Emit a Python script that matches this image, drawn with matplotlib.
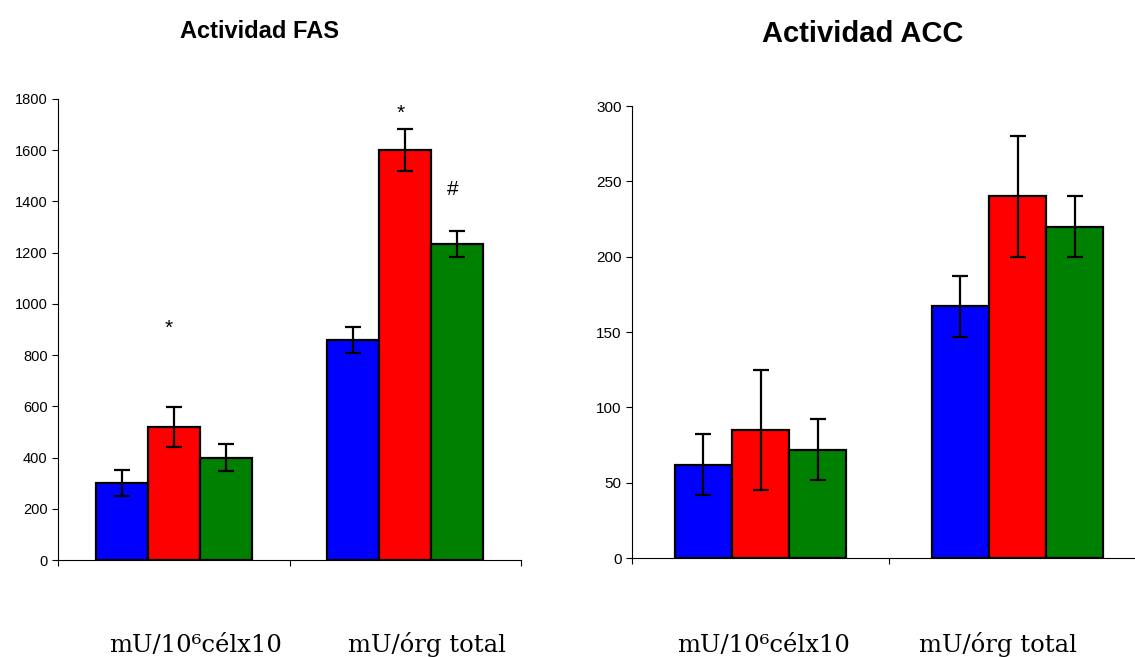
import numpy as np
import matplotlib
matplotlib.use("Agg")
import matplotlib.pyplot as plt

# data
categories = ["mU/10\u2076célx10", "mU/órg total"]
colors = ["#0000FF", "#FF0000", "#008000"]

fas_means = [[300, 520, 400], [860, 1600, 1235]]
fas_errs = [[50, 78, 52], [50, 82, 50]]

acc_means = [[62, 85, 72], [167, 240, 220]]
acc_errs = [[20, 40, 20], [20, 40, 20]]

# significance marks: (category, series, y)
fas_marks = [(0, 1, 906, "*"), (1, 1, 1746, "*"), (1, 2, 1445, "#")]

plt.rcParams["font.family"] = ["Liberation Sans", "DejaVu Sans"]

fig = plt.figure(figsize=(11.35, 6.57), dpi=100)
W, H = 1135, 657


def px_axes(x0, x1, y0, y1):
    # pixel box (left, right, bottom-y, top-y) -> figure axes
    return fig.add_axes([x0 / W, (H - y0) / H, (x1 - x0) / W, (y0 - y1) / H])


def draw_bars(ax, means, errs, width):
    x = np.arange(len(categories))
    means = np.array(means)
    errs = np.array(errs)
    for i in range(3):
        ax.bar(x + (i - 1) * width, means[:, i], width, color=colors[i],
               edgecolor="black", linewidth=1.6, zorder=2)
        ax.errorbar(x + (i - 1) * width, means[:, i], yerr=errs[:, i], fmt="none",
                    ecolor="black", elinewidth=1.6, capsize=5.8, capthick=1.6, zorder=3)
    ax.set_xlim(-0.5, 1.5)
    ax.set_xticks([])
    ax.set_xticks([-0.5, 0.5, 1.5], minor=True)
    ax.tick_params(axis="x", which="minor", direction="out", length=4, width=0.8)
    ax.tick_params(axis="y", direction="out", length=4, width=0.8)
    for s in ["top", "right"]:
        ax.spines[s].set_visible(False)
    for s in ["left", "bottom"]:
        ax.spines[s].set_linewidth(0.8)


# FAS panel
ax1 = px_axes(58, 521, 560, 99)
draw_bars(ax1, fas_means, fas_errs, 0.224)
ax1.set_ylim(0, 1800)
ax1.set_yticks(np.arange(0, 1801, 200))
ax1.tick_params(axis="y", labelsize=10.5)
for c, s, y, txt in fas_marks:
    ax1.text(c + (s - 1) * 0.224 - 0.02, y, txt, ha="center", va="center", fontsize=15)

# ACC panel
ax2 = px_axes(632, 1146, 558, 106)
draw_bars(ax2, acc_means, acc_errs, 0.222)
ax2.set_ylim(0, 300)
ax2.set_yticks(np.arange(0, 301, 50))
ax2.tick_params(axis="y", labelsize=11)

fig.text(260 / W, 1 - 31 / H, "Actividad FAS", ha="center", va="center",
         fontsize=17, fontweight="bold")
fig.text(863 / W, 1 - 34 / H, "Actividad ACC", ha="center", va="center",
         fontsize=21, fontweight="bold")

label_x = [196, 427, 764, 998]
for x, lab in zip(label_x, categories * 2):
    fig.text(x / W, 5 / H, lab, ha="center", va="baseline",
             fontsize=17.5, family=["DejaVu Serif"])

fig.savefig("out.png", dpi=100)
